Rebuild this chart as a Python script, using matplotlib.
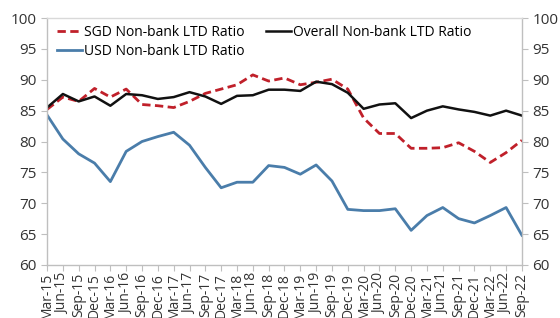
import matplotlib
matplotlib.use("Agg")
import matplotlib.pyplot as plt

quarters = ["Mar-15","Jun-15","Sep-15","Dec-15","Mar-16","Jun-16","Sep-16","Dec-16",
            "Mar-17","Jun-17","Sep-17","Dec-17","Mar-18","Jun-18","Sep-18","Dec-18",
            "Mar-19","Jun-19","Sep-19","Dec-19","Mar-20","Jun-20","Sep-20","Dec-20",
            "Mar-21","Jun-21","Sep-21","Dec-21","Mar-22","Jun-22","Sep-22"]

sgd = [85.2, 87.2, 86.5, 88.6, 87.2, 88.5, 86.0, 85.8, 85.5, 86.5, 87.8, 88.5,
       89.2, 90.8, 89.8, 90.3, 89.2, 89.6, 90.1, 88.5, 83.8, 81.3, 81.3, 78.9,
       78.9, 79.0, 79.8, 78.4, 76.6, 78.2, 80.2]
overall = [85.5, 87.7, 86.5, 87.3, 85.8, 87.7, 87.5, 86.9, 87.2, 88.0, 87.3, 86.1,
           87.4, 87.5, 88.4, 88.4, 88.2, 89.7, 89.3, 87.9, 85.3, 86.0, 86.2, 83.8,
           85.0, 85.7, 85.2, 84.8, 84.2, 85.0, 84.2]
usd = [84.3, 80.4, 78.0, 76.5, 73.5, 78.4, 80.0, 80.8, 81.5, 79.4, 75.8, 72.5,
       73.4, 73.4, 76.1, 75.8, 74.7, 76.2, 73.6, 69.0, 68.8, 68.8, 69.1, 65.6,
       68.0, 69.3, 67.5, 66.8, 68.0, 69.3, 64.8]

plt.rcParams['font.family'] = ['Open Sans', 'DejaVu Sans']

fig = plt.figure(figsize=(5.6, 3.18), dpi=100)
ax = fig.add_axes([0.084, 0.167, 0.848, 0.776])

x = list(range(len(quarters)))
l1, = ax.plot(x, sgd, color='#C0202A', lw=2.0, ls=(0, (3, 1.6)), label='SGD Non-bank LTD Ratio')
l3, = ax.plot(x, usd, color='#4A7DAA', lw=2.0, label='USD Non-bank LTD Ratio')
l2, = ax.plot(x, overall, color='#111111', lw=1.8, label='Overall Non-bank LTD Ratio')

ax.set_xlim(0, len(quarters) - 1)
ax.set_ylim(60, 100)
ax.set_yticks(range(60, 101, 5))
ax.set_xticks(x)
ax.set_xticklabels(quarters, rotation=90, fontsize=10, color='#333333')
ax.tick_params(axis='y', labelsize=11, colors='#333333', length=4, color='#BFBFBF',
               left=True, right=True, labelleft=True, labelright=True)
ax.tick_params(axis='x', length=4, color='#BFBFBF', pad=2)
for s in ax.spines.values():
    s.set_color('#D9D9D9')
    s.set_linewidth(1.0)
ax.spines['left'].set_color('#BFBFBF')
ax.spines['right'].set_color('#BFBFBF')
ax.spines['bottom'].set_color('#BFBFBF')

ax.legend(handles=[l1, l3, l2], ncol=2, loc='upper left', frameon=False,
          fontsize=10, handlelength=1.8, handletextpad=0.15, columnspacing=1.5,
          labelspacing=0.3, borderaxespad=0.0, bbox_to_anchor=(0.01, 0.995))

fig.savefig('out.png', dpi=100)
